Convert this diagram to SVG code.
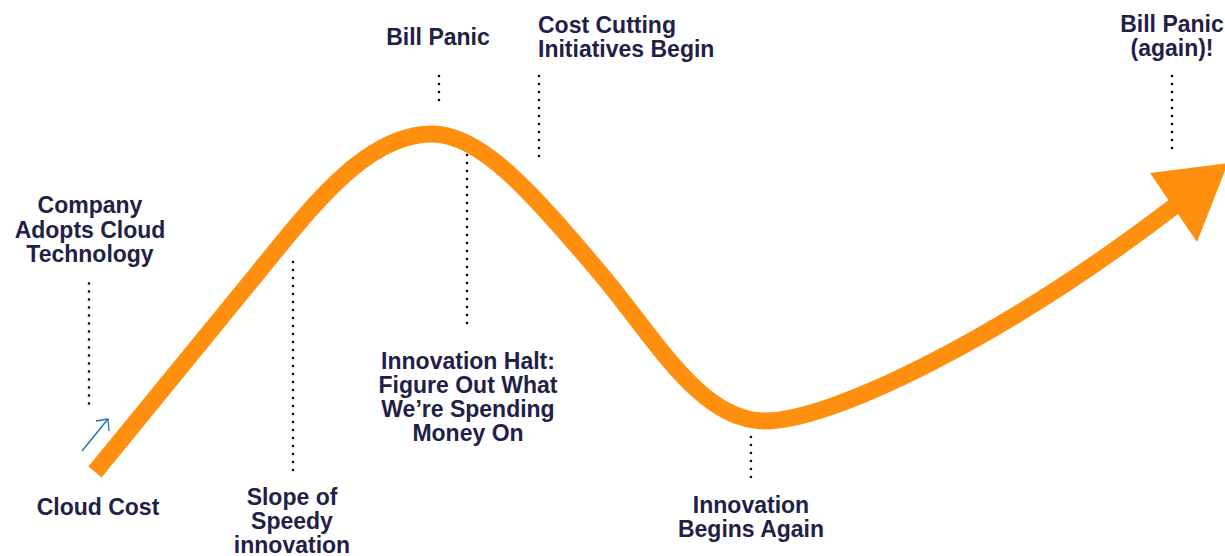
<svg xmlns="http://www.w3.org/2000/svg" width="1225" height="556" viewBox="0 0 1225 556">
<style>
.t{font-family:"Liberation Sans",Arial,sans-serif;font-weight:bold;font-size:23px;fill:#1f2147;text-anchor:middle}
.l{text-anchor:start}
.d{stroke:#000;stroke-width:2.6;stroke-linecap:round;stroke-dasharray:0 8;fill:none}
</style>
<rect width="1225" height="556" fill="#fff"/>
<g id="connectors">
<path id="curve" d="M95,472 L282,243 C325,190 375,134 432,134 C480,134 530,190 600,273 C655,338 700,421 765,421 C830,421 1000,340 1176,205" fill="none" stroke="#FF8F0F" stroke-width="17" stroke-linecap="butt"/>
<polygon points="1150,173 1228,163 1197,242" fill="#FF8F0F"/>
<g id="small-arrow" stroke="#1f6fb0" stroke-width="1.3" fill="none">
<line x1="82" y1="451" x2="108" y2="419"/>
<polyline points="96,421 108,419 109,431"/>
</g>
<line class="d" x1="89" y1="283.5" x2="89" y2="408"/>
<line class="d" x1="439" y1="76" x2="439" y2="107"/>
<line class="d" x1="539" y1="76" x2="539" y2="164"/>
<line class="d" x1="1172" y1="76" x2="1172" y2="156"/>
<line class="d" x1="293" y1="262" x2="293" y2="478"/>
<line class="d" x1="467" y1="155" x2="467" y2="331"/>
<line class="d" x1="751" y1="437" x2="751" y2="478"/>
</g>
<g id="company"><text class="t" x="90" y="213">Company</text><text class="t" x="90" y="238">Adopts Cloud</text><text class="t" x="90" y="262">Technology</text></g>
<g id="cloud-cost"><text class="t" x="98" y="515">Cloud Cost</text></g>
<g id="slope"><text class="t" x="292" y="505">Slope of</text><text class="t" x="292" y="529">Speedy</text><text class="t" x="292" y="553">innovation</text></g>
<g id="bill-panic"><text class="t" x="438" y="45">Bill Panic</text></g>
<g id="cost-cutting"><text class="t l" x="538" y="33">Cost Cutting</text><text class="t l" x="538" y="57">Initiatives Begin</text></g>
<g id="innovation-halt"><text class="t" x="468" y="369">Innovation Halt:</text><text class="t" x="468" y="393">Figure Out What</text><text class="t" x="468" y="417">We’re Spending</text><text class="t" x="468" y="441">Money On</text></g>
<g id="innovation-begins"><text class="t" x="751" y="513">Innovation</text><text class="t" x="751" y="537">Begins Again</text></g>
<g id="bill-panic-again"><text class="t" x="1172" y="32">Bill Panic</text><text class="t" x="1172" y="56">(again)!</text></g>
</svg>
